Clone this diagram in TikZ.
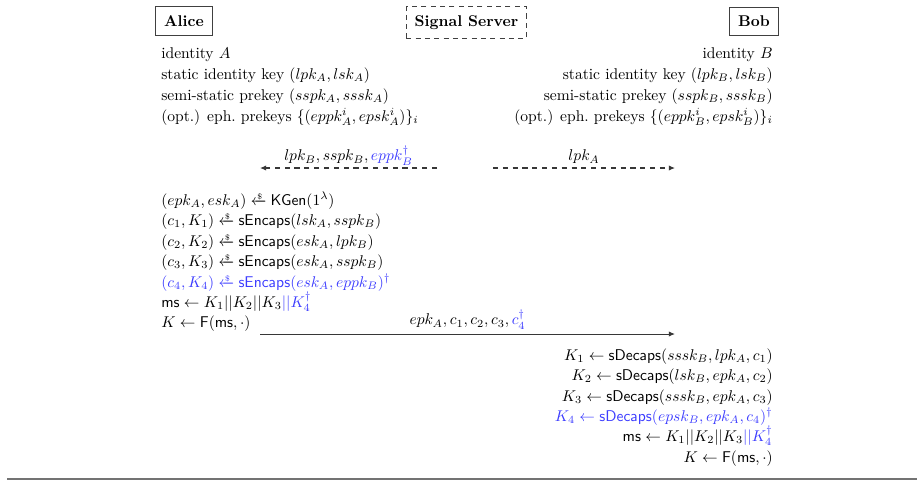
\documentclass[tikz,border=0pt]{standalone}
\usepackage{amsmath,amssymb}
\usetikzlibrary{arrows.meta}
\definecolor{optblue}{RGB}{60,60,255}
\definecolor{linegray}{RGB}{55,55,55}
% sampling arrow with a dollar sign on top
\newcommand{\smpl}{\mathrel{\xleftarrow{\raisebox{-0.5ex}[0ex][0ex]{\tiny\$}}}}
% optional (blue) part of a formula, used inside math
\newcommand{\opt}[1]{{\color{optblue}#1}}
\tikzset{
  party/.style={draw=black!75, line width=0.65pt, inner xsep=5.8pt, inner ysep=5.5pt, font=\bfseries},
  server/.style={draw=black!75, dash pattern=on 3.3pt off 2.7pt, line width=0.65pt, inner xsep=5.5pt, inner ysep=5.5pt, font=\bfseries},
  lline/.style={anchor=base west, inner sep=0pt},
  rline/.style={anchor=base east, inner sep=0pt},
  msg/.style={linegray, line width=0.65pt, -{Latex[length=4pt,width=3.4pt]}},
  dmsg/.style={msg, dash pattern=on 3.3pt off 3pt},
  lbl/.style={inner sep=0pt, anchor=base, text=black}
}
\begin{document}
\begin{tikzpicture}[x=0.642pt, y=-0.642pt]
\useasboundingbox (0,0) rectangle (917,481);

% participants
\node[party]  (alice)  at (184,21) {Alice};
\node[server] (server) at (466.5,22.5) {Signal Server};
\node[party]  (bob)    at (754,21.5) {Bob};

% long-term material of Alice
\node[lline] (a1) at (161,58) {identity $A$};
\node[lline] (a2) at (161,79) {static identity key $(lpk_A, lsk_A)$};
\node[lline] (a3) at (161,100) {semi-static prekey $(sspk_A, sssk_A)$};
\node[lline] (a4) at (161,121) {(opt.) eph.\ prekeys $\{(eppk^i_A, epsk^i_A)\}_i$};

% long-term material of Bob
\node[rline] (b1) at (773,58) {identity $B$};
\node[rline] (b2) at (773,79) {static identity key $(lpk_B, lsk_B)$};
\node[rline] (b3) at (773,100) {semi-static prekey $(sspk_B, sssk_B)$};
\node[rline] (b4) at (773,121) {(opt.) eph.\ prekeys $\{(eppk^i_B, epsk^i_B)\}_i$};

% prekey bundle from the server, Alice's key to Bob
\coordinate (srvA) at (437,168);
\coordinate (recA) at (260,168);
\coordinate (srvB) at (493,168);
\coordinate (recB) at (675,168);
\draw[dmsg] (srvA) -- (recA) node[lbl, midway, yshift=4.5pt] {$lpk_B, sspk_B, \opt{eppk^\dagger_B}$};
\draw[dmsg] (srvB) -- (recB) node[lbl, midway, yshift=4.5pt] {$lpk_A$};

% Alice's computations
\node[lline] (c1) at (161,205) {$(epk_A, esk_A) \smpl \mathsf{KGen}(1^\lambda)$};
\node[lline] (c2) at (161,225) {$(c_1, K_1) \smpl \mathsf{sEncaps}(lsk_A, sspk_B)$};
\node[lline] (c3) at (161,246) {$(c_2, K_2) \smpl \mathsf{sEncaps}(esk_A, lpk_B)$};
\node[lline] (c4) at (161,266) {$(c_3, K_3) \smpl \mathsf{sEncaps}(esk_A, sspk_B)$};
\node[lline, text=optblue] (c5) at (161,287) {$(c_4, K_4) \smpl \mathsf{sEncaps}(esk_A, eppk_B)^\dagger$};
\node[lline] (c6) at (161,307) {$\mathsf{ms} \leftarrow K_1||K_2||K_3\opt{||K^\dagger_4}$};
\node[lline] (c7) at (161,327) {$K \leftarrow \mathsf{F}(\mathsf{ms}, \cdot)$};

% first message from Alice to Bob
\coordinate (sendA) at (260,334);
\coordinate (recvB) at (675,334);
\draw[msg] (sendA) -- (recvB) node[lbl, midway, yshift=5.8pt] {$epk_A, c_1, c_2, c_3, \opt{c^\dagger_4}$};

% Bob's computations
\node[rline] (d1) at (773,360) {$K_1 \leftarrow \mathsf{sDecaps}(sssk_B, lpk_A, c_1)$};
\node[rline] (d2) at (773,380) {$K_2 \leftarrow \mathsf{sDecaps}(lsk_B, epk_A, c_2)$};
\node[rline] (d3) at (773,401) {$K_3 \leftarrow \mathsf{sDecaps}(sssk_B, epk_A, c_3)$};
\node[rline, text=optblue] (d4) at (773,421) {$K_4 \leftarrow \mathsf{sDecaps}(epsk_B, epk_A, c_4)^\dagger$};
\node[rline] (d5) at (773,441) {$\mathsf{ms} \leftarrow K_1||K_2||K_3\opt{||K^\dagger_4}$};
\node[rline] (d6) at (773,462) {$K \leftarrow \mathsf{F}(\mathsf{ms}, \cdot)$};

% closing rule
\coordinate (ruleL) at (7,479);
\coordinate (ruleR) at (917,479);
\draw[black!55, line width=0.9pt] (ruleL) -- (ruleR);
\end{tikzpicture}
\end{document}
